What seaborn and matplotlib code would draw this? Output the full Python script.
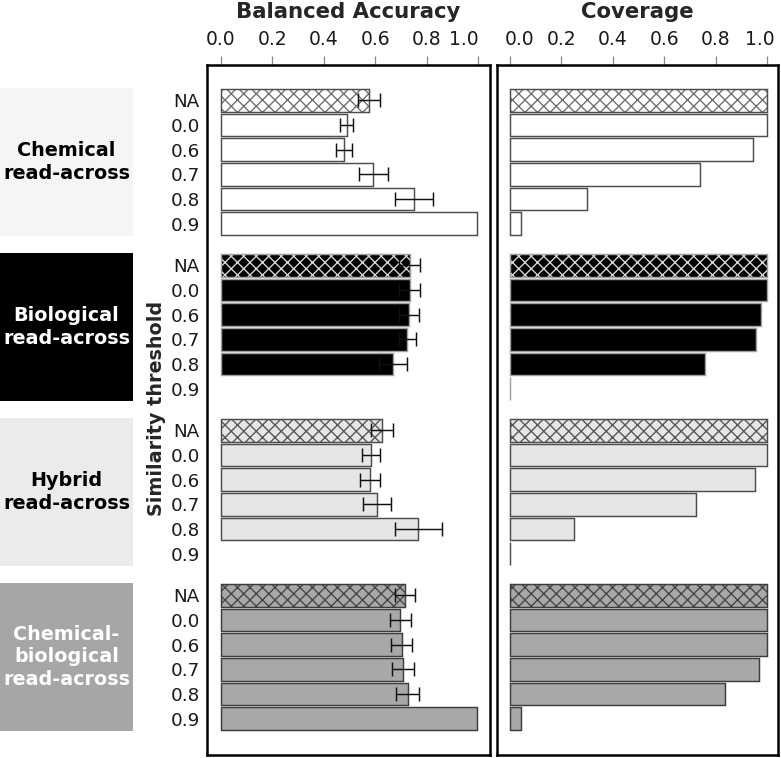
import numpy as np
import pandas as pd
import matplotlib
matplotlib.use('Agg')
import matplotlib.pyplot as plt
import matplotlib.colors as mcolors
import matplotlib.transforms as mtransforms
from matplotlib.patches import Rectangle
import seaborn as sns

nan = np.nan

groups = ['Chemical\nread-across', 'Biological\nread-across', 'Hybrid\nread-across',
          'Chemical-\nbiological\nread-across']
thresholds = ['NA', '0.0', '0.6', '0.7', '0.8', '0.9']

# balanced accuracy (mean, +/- error) per threshold
ba_chem = [0.576, 0.489, 0.479, 0.593, 0.751, 0.997]
ba_chem_err = [0.044, 0.026, 0.032, 0.056, 0.074, nan]
ba_bio = [0.735, 0.735, 0.733, 0.725, 0.668, nan]
ba_bio_err = [0.041, 0.041, 0.039, 0.034, 0.054, nan]
ba_hyb = [0.626, 0.584, 0.580, 0.608, 0.768, nan]
ba_hyb_err = [0.043, 0.036, 0.038, 0.054, 0.090, nan]
ba_cb = [0.717, 0.698, 0.704, 0.708, 0.726, 0.997]
ba_cb_err = [0.038, 0.041, 0.041, 0.043, 0.046, nan]

# coverage per threshold
cov_chem = [1.0, 1.0, 0.943, 0.738, 0.300, 0.045]
cov_bio = [1.0, 1.0, 0.977, 0.955, 0.758, 0.0]
cov_hyb = [1.0, 1.0, 0.954, 0.724, 0.250, 0.0]
cov_cb = [1.0, 1.0, 1.0, 0.966, 0.834, 0.045]

xticks = [0, 0.2, 0.4, 0.6, 0.8, 1.0]
xticklabels = ['0.0', '0.2', '0.4', '0.6', '0.8', '1.0']

fills = ['#ffffff', '#000000', '#e6e6e6', '#a8a8a8']
edges = ['#4d4d4d', '#a0a0a0', '#4d4d4d', '#3d3d3d']
hatch_cols = ['#6e6e6e', '#d9d9d9', '#555555', '#454545']
box_fc = ['#f5f5f5', '#000000', '#ebebeb', '#a6a6a6']
box_tc = ['black', 'white', 'black', 'white']

group_step = 6.68

rows = []
ba_all = [ba_chem, ba_bio, ba_hyb, ba_cb]
err_all = [ba_chem_err, ba_bio_err, ba_hyb_err, ba_cb_err]
cov_all = [cov_chem, cov_bio, cov_hyb, cov_cb]
for g in range(len(groups)):
    for r, t in enumerate(thresholds):
        rows.append(dict(group=g, thr=t, pos=g * group_step + r,
                         ba=ba_all[g][r], err=err_all[g][r], cov=cov_all[g][r]))
df = pd.DataFrame(rows)

sns.set_style('white')
plt.rcParams['hatch.linewidth'] = 0.65
plt.rcParams['font.family'] = ['DejaVu Sans']

W, H, DPI = 781, 758, 150
fig = plt.figure(figsize=(W / DPI, H / DPI), dpi=DPI)
ax_ba = fig.add_axes([207 / W, 3 / H, 283 / W, 690 / H])
ax_cov = fig.add_axes([497 / W, 3 / H, 281 / W, 690 / H], sharey=ax_ba)
ax_lab = fig.add_axes([0, 3 / H, 133 / W, 690 / H], sharey=ax_ba)


def draw_bars(ax, col):
    for g in range(len(groups)):
        sub = df[(df.group == g)].dropna(subset=[col])
        n0 = len(ax.patches)
        sns.barplot(data=sub, x=col, y='pos', orient='y', native_scale=True,
                    color=fills[g], edgecolor=edges[g], linewidth=0.7, saturation=1,
                    errorbar=None, width=0.92, ax=ax)
        na_pos = sub.loc[sub.thr == 'NA', 'pos'].iloc[0]
        for p in ax.patches[n0:]:
            if abs(p.get_y() + p.get_height() / 2 - na_pos) < 0.3:
                p.set_hatch('xxxx')
                p._hatch_color = mcolors.to_rgba(hatch_cols[g])


draw_bars(ax_ba, 'ba')
draw_bars(ax_cov, 'cov')

eb = df.dropna(subset=['err'])
ax_ba.errorbar(eb['ba'], eb['pos'], xerr=eb['err'], fmt='none', ecolor='#111111',
               elinewidth=0.7, capsize=3.3, capthick=0.7)

ymin, ymax = -1.43, -1.43 + 27.94
# horizontal nudges (pixels) of crowded tick labels, as in the original
nudges = {'ba': {5: -14}, 'cov': {0: 10, 5: -7}}
for ax, key, xl, title in [(ax_ba, 'ba', (-0.053, 1.046), 'Balanced Accuracy'),
                           (ax_cov, 'cov', (-0.0485, 1.0415), 'Coverage')]:
    ax.set_xlim(*xl)
    ax.set_ylim(ymax, ymin)
    ax.xaxis.tick_top()
    ax.set_xticks(xticks)
    ax.set_xticklabels(xticklabels)
    ax.tick_params(axis='x', length=4.3, width=0.6, color='#888888', pad=3.5,
                   labelsize=9.0, labelcolor='#1a1a1a')
    for i, dx in nudges[key].items():
        lab = ax.get_xticklabels()[i]
        lab.set_transform(lab.get_transform() +
                          mtransforms.ScaledTranslation(dx / DPI, 0, fig.dpi_scale_trans))
    ax.set_xlabel('')
    ax.set_ylabel('')
    ax.set_title(title, fontweight='bold', fontsize=10.2, y=1 + 47 / 690, pad=0)
    for s in ax.spines.values():
        s.set_visible(True)
        s.set_color('black')
        s.set_linewidth(1.2)

ax_ba.set_yticks(df['pos'])
ax_ba.set_yticklabels(df['thr'])
ax_ba.tick_params(axis='y', length=0, pad=3.5, labelsize=8.8, labelcolor='#1a1a1a')
ax_cov.tick_params(axis='y', length=0, labelleft=False)

fig.text(157 / W, 1 - 408 / H, 'Similarity threshold', rotation=90, ha='center',
         va='center', fontweight='bold', fontsize=9.2)

ax_lab.set_xlim(0, 1)
ax_lab.axis('off')
for g, name in enumerate(groups):
    start = g * group_step
    ax_lab.add_patch(Rectangle((0, start - 0.5), 1, 6, facecolor=box_fc[g],
                               edgecolor='none'))
    ax_lab.text(0.5, start + 2.5, name, ha='center', va='center', color=box_tc[g],
                fontweight='bold', fontsize=9.2, linespacing=1.25)

fig.savefig('out.png', dpi=DPI, facecolor='white')
